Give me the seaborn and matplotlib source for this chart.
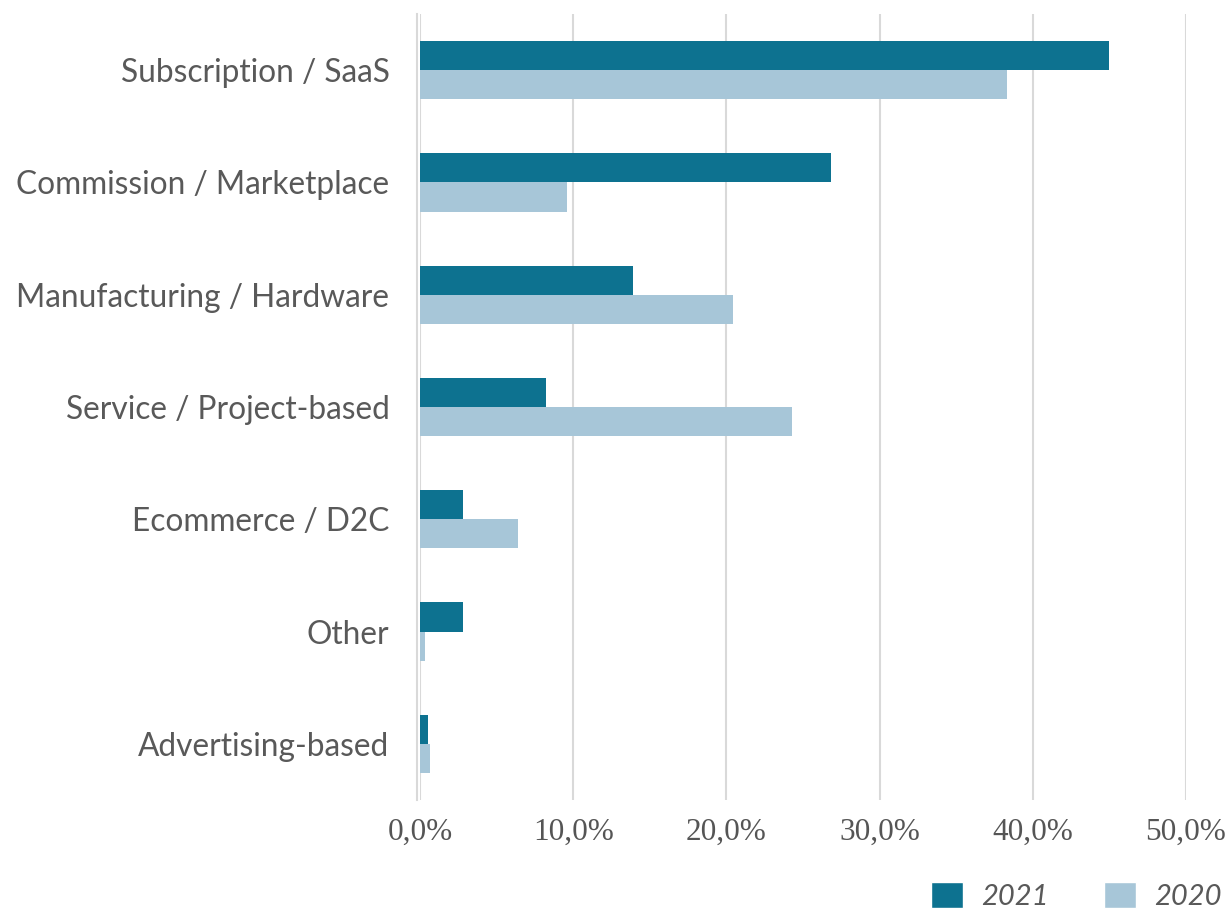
import pandas as pd
import numpy as np
import seaborn as sns
import matplotlib.pyplot as plt
from matplotlib.ticker import FuncFormatter, FixedLocator
from matplotlib.patches import Patch

# revenue models, share of companies (%)
categories = ["Subscription / SaaS", "Commission / Marketplace", "Manufacturing / Hardware",
              "Service / Project-based", "Ecommerce / D2C", "Other", "Advertising-based"]
share_2021 = [45.0, 26.8, 13.9, 8.2, 2.8, 2.8, 0.5]
share_2020 = [38.3, 9.6, 20.4, 24.3, 6.4, 0.3, 0.65]
years = ["2021", "2020"]
colors = ["#0d7290", "#a7c6d8"]

df = pd.DataFrame({
    "model": categories * 2,
    "share": share_2021 + share_2020,
    "year": [years[0]] * len(categories) + [years[1]] * len(categories),
})

sns.set_style("white")
plt.rcParams['font.family'] = ['Lato', 'DejaVu Sans']

fig = plt.figure(figsize=(12.3, 9.11), dpi=100)
ax = fig.add_axes([420/1230, 1 - 800/911, (1186 - 420)/1230, (800 - 14)/911])

sns.barplot(data=df, y="model", x="share", hue="year", palette=colors,
            order=categories, hue_order=years, width=0.52, orient="h",
            legend=False, ax=ax, saturation=1, linewidth=0)

ax.set_xlim(0, 50)
ax.set_ylim(len(categories) - 0.5, -0.5)
ax.xaxis.set_major_locator(FixedLocator([0, 10, 20, 30, 40, 50]))
ax.xaxis.set_major_formatter(FuncFormatter(lambda v, p: f"{v:.1f}%".replace(".", ",")))
ax.grid(axis="x", color="#d9d9d9", linewidth=1.5)
ax.set_axisbelow(True)
for s in ["top", "right", "bottom"]:
    ax.spines[s].set_visible(False)
ax.spines["left"].set_color("#d9d9d9")
ax.spines["left"].set_linewidth(1.5)
ax.spines["left"].set_position(("outward", 2))

ax.set_xlabel("")
ax.set_ylabel("")
ax.tick_params(axis="x", length=0, labelsize=22.5, labelcolor="#555555", pad=13)
for lbl in ax.get_xticklabels():
    lbl.set_fontfamily(["Liberation Serif", "DejaVu Serif"])
ax.tick_params(axis="y", which="major", length=0, labelsize=22.8, labelcolor="#595959", pad=20)
ax.set_yticks(np.arange(-0.5, len(categories)), minor=True)
ax.tick_params(axis="y", which="minor", length=8, width=1.5, color="#d9d9d9")

handles = [Patch(facecolor=c, label=y) for c, y in zip(colors, years)]
fig.legend(handles=handles, loc="lower right", bbox_to_anchor=(1222/1230, 1/911), ncol=2,
           frameon=False, prop={"size": 21, "style": "italic"}, labelcolor="#595959",
           handlelength=1.1, handleheight=0.95, handletextpad=0.62, columnspacing=1.9,
           borderpad=0, borderaxespad=0)

plt.savefig("out.png", dpi=100)
